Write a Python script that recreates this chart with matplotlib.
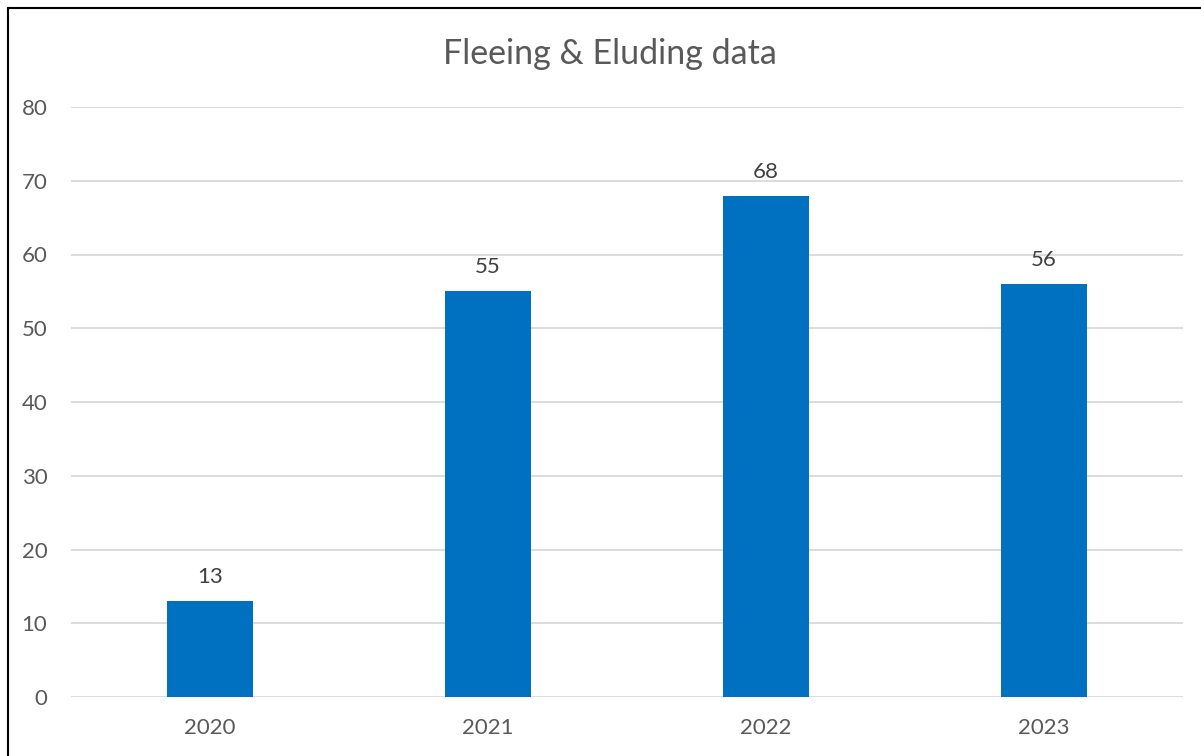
import matplotlib
matplotlib.use('Agg')
import matplotlib.pyplot as plt
from matplotlib.lines import Line2D

years = ['2020', '2021', '2022', '2023']
counts = [13, 55, 68, 56]
title = 'Fleeing & Eluding data'

plt.rcParams['font.family'] = ['Lato', 'DejaVu Sans']
text_color = '#595959'

fig = plt.figure(figsize=(12.01, 7.56), dpi=100)
ax = fig.add_axes([71 / 1201, 59 / 756, 1112 / 1201, 590 / 756])

x = range(len(years))
bars = ax.bar(x, counts, width=0.31, color='#0070C0', zorder=3)
for b, v in zip(bars, counts):
    ax.annotate(str(v), (b.get_x() + b.get_width() / 2, v), xytext=(0, 10),
                textcoords='offset points', ha='center', va='bottom',
                fontsize=16, color='#404040')

ax.set_xlim(-0.5, len(years) - 0.5)
ax.set_ylim(0, 80)
ax.set_yticks(range(0, 81, 10))
ax.set_xticks(list(x))
ax.set_xticklabels(years)
ax.grid(axis='y', color='#d9d9d9', linewidth=1.3, zorder=0)
for s in ax.spines.values():
    s.set_visible(False)
ax.tick_params(axis='both', length=0, labelsize=16, colors=text_color)
ax.tick_params(axis='y', pad=17)
ax.tick_params(axis='x', pad=15)

fig.text(610 / 1201, 1 - 54 / 756, title, ha='center', va='center',
         fontsize=24.5, color=text_color)

# outer frame (top and left edges only visible)
fig.add_artist(Line2D([8 / 1201, 1], [1 - 8 / 756, 1 - 8 / 756], color='black', lw=1.5))
fig.add_artist(Line2D([8 / 1201, 8 / 1201], [0, 1 - 8 / 756], color='black', lw=1.5))

fig.savefig('out.png', dpi=100)
